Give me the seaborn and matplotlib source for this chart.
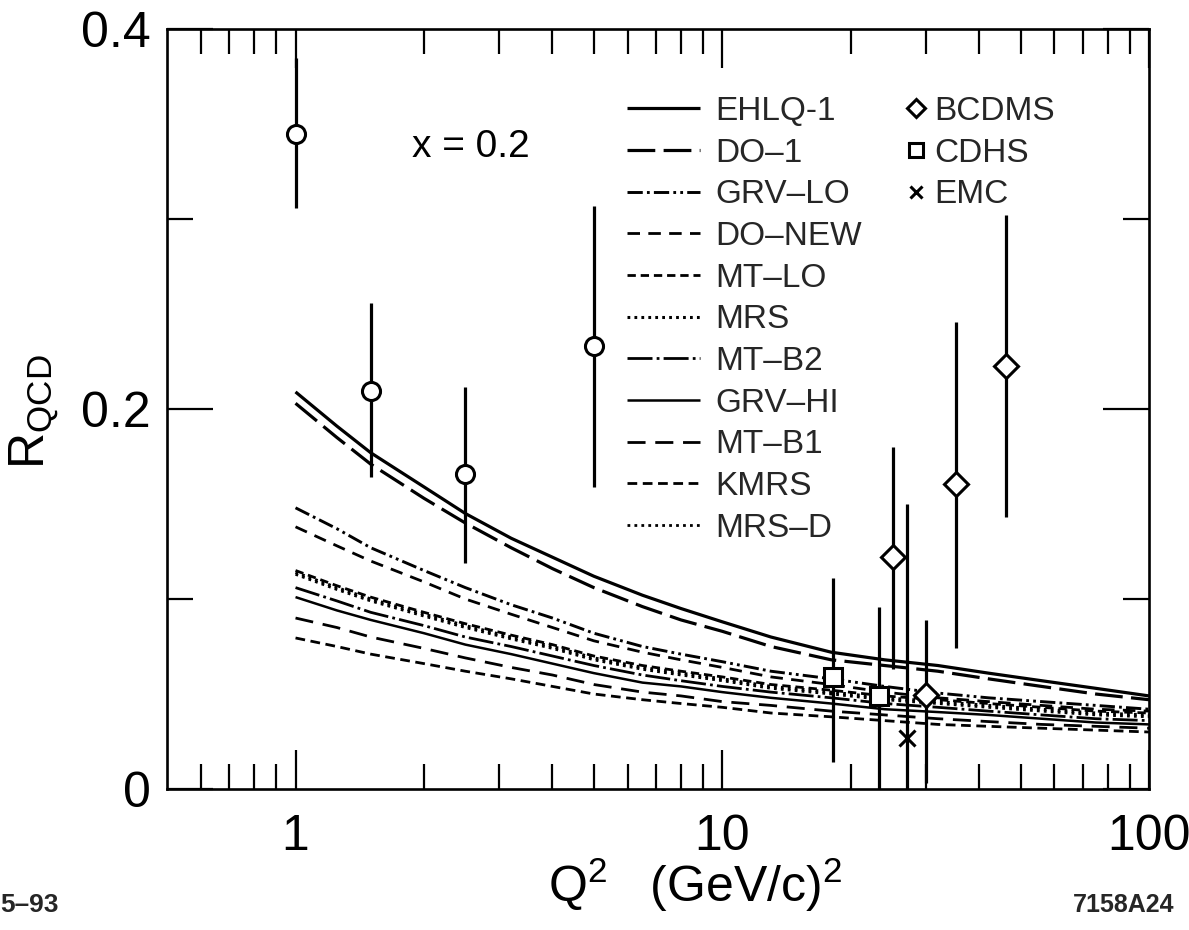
import numpy as np
import pandas as pd
import matplotlib
matplotlib.use("Agg")
import matplotlib.pyplot as plt
import seaborn as sns
from matplotlib.ticker import FixedLocator, NullFormatter

Q2_GRID = [1, 1.25, 1.5, 2, 2.5, 3.2, 4, 5, 6.5, 8, 10, 13, 18, 24, 32, 42, 56, 75, 100]

R_EHLQ1 = [0.209, 0.191, 0.177, 0.159, 0.145, 0.132, 0.122, 0.112, 0.102, 0.095,
           0.088, 0.080, 0.072, 0.068, 0.065, 0.061, 0.057, 0.053, 0.049]
R_DO1 = [0.203, 0.185, 0.171, 0.153, 0.140, 0.127, 0.116, 0.106, 0.096, 0.089,
         0.083, 0.075, 0.068, 0.065, 0.062, 0.058, 0.054, 0.050, 0.047]
R_GRVLO = [0.148, 0.137, 0.127, 0.115, 0.106, 0.097, 0.090, 0.082, 0.075, 0.071,
           0.067, 0.062, 0.058, 0.054, 0.0505, 0.048, 0.046, 0.044, 0.042]
R_DONEW = [0.138, 0.128, 0.120, 0.109, 0.100, 0.092, 0.085, 0.078, 0.072, 0.068,
           0.064, 0.059, 0.055, 0.051, 0.048, 0.046, 0.044, 0.042, 0.041]
R_MTLO = [0.115, 0.107, 0.101, 0.093, 0.087, 0.081, 0.076, 0.070, 0.065, 0.062,
          0.059, 0.055, 0.052, 0.049, 0.047, 0.045, 0.043, 0.041, 0.040]
R_MRS = [0.114, 0.106, 0.100, 0.092, 0.086, 0.080, 0.075, 0.069, 0.064, 0.061,
         0.058, 0.054, 0.051, 0.048, 0.046, 0.044, 0.042, 0.040, 0.039]
R_MTB2 = [0.106, 0.099, 0.093, 0.086, 0.080, 0.075, 0.070, 0.065, 0.060, 0.057,
          0.054, 0.051, 0.048, 0.045, 0.043, 0.041, 0.039, 0.037, 0.036]
R_GRVHI = [0.101, 0.094, 0.089, 0.082, 0.076, 0.071, 0.066, 0.061, 0.056, 0.054,
           0.051, 0.048, 0.045, 0.042, 0.0405, 0.039, 0.037, 0.035, 0.034]
R_MTB1 = [0.090, 0.085, 0.080, 0.074, 0.069, 0.064, 0.060, 0.055, 0.051, 0.049,
          0.046, 0.044, 0.041, 0.039, 0.037, 0.0355, 0.034, 0.033, 0.032]
R_KMRS = [0.0795, 0.075, 0.071, 0.066, 0.062, 0.058, 0.054, 0.050, 0.047, 0.045,
          0.043, 0.040, 0.038, 0.036, 0.034, 0.033, 0.032, 0.031, 0.030]
R_MRSD = [0.113, 0.105, 0.099, 0.091, 0.085, 0.079, 0.074, 0.068, 0.063, 0.060,
          0.057, 0.053, 0.050, 0.047, 0.045, 0.043, 0.041, 0.039, 0.038]

MODELS = ["EHLQ-1", "DO\u20131", "GRV\u2013LO", "DO\u2013NEW", "MT\u2013LO", "MRS",
          "MT\u2013B2", "GRV\u2013HI", "MT\u2013B1", "KMRS", "MRS\u2013D"]
MODEL_VALUES = [R_EHLQ1, R_DO1, R_GRVLO, R_DONEW, R_MTLO, R_MRS,
                R_MTB2, R_GRVHI, R_MTB1, R_KMRS, R_MRSD]

# (linestyle, linewidth) per curve
STYLES = {
    "EHLQ-1": ("-", 2.3),
    "DO\u20131": ((0, (20, 6)), 2.3),
    "GRV\u2013LO": ((0, (11, 3, 2, 3, 11, 3, 2, 3, 2, 3)), 2.1),
    "DO\u2013NEW": ((0, (9, 6)), 2.0),
    "MT\u2013LO": ((0, (6, 3.5)), 2.0),
    "MRS": ((0, (2, 3)), 2.2),
    "MT\u2013B2": ((0, (18, 3, 2, 3)), 2.0),
    "GRV\u2013HI": ("-", 1.8),
    "MT\u2013B1": ((0, (13, 7)), 2.0),
    "KMRS": ((0, (7, 4)), 2.0),
    "MRS\u2013D": ((0, (2, 3)), 2.0),
}

# data points (value, lower end, upper end of the error bar)
SLAC_Q2 = [1.0, 1.5, 2.5, 5.0]
SLAC_R = [0.345, 0.2095, 0.166, 0.233]
SLAC_LO = [0.306, 0.164, 0.119, 0.159]
SLAC_HI = [0.385, 0.256, 0.2115, 0.307]

BCDMS_Q2 = [25.1, 30.0, 35.3, 46.1]
BCDMS_R = [0.122, 0.0495, 0.1605, 0.2226]
BCDMS_LO = [0.063, 0.003, 0.074, 0.143]
BCDMS_HI = [0.180, 0.089, 0.246, 0.302]

CDHS_Q2 = [18.2, 23.3]
CDHS_R = [0.059, 0.049]
CDHS_LO = [0.014, 0.0]
CDHS_HI = [0.111, 0.096]

EMC_Q2 = [27.1]
EMC_R = [0.027]
EMC_LO = [0.0]
EMC_HI = [0.150]

X_MAJOR = [1, 10, 100]
X_MINOR = [0.6, 0.7, 0.8, 0.9, 2, 3, 4, 5, 6, 7, 8, 9, 20, 30, 40, 50, 60, 70, 80, 90]
Y_MAJOR = [0, 0.2, 0.4]
Y_MINOR = [0.1, 0.3]

sns.set_theme(style="ticks")
plt.rcParams["font.family"] = ["Liberation Sans", "DejaVu Sans"]
plt.rcParams["mathtext.fontset"] = "custom"
plt.rcParams["mathtext.rm"] = "Liberation Sans"
plt.rcParams["mathtext.it"] = "Liberation Sans"
plt.rcParams["lines.scale_dashes"] = False

fig, ax = plt.subplots(figsize=(11.89, 9.30), dpi=100)
fig.subplots_adjust(left=0.1405, right=0.9664, bottom=0.1516, top=0.9688)

curves = pd.DataFrame({
    "Q2": np.tile(Q2_GRID, len(MODELS)),
    "R": np.concatenate(MODEL_VALUES),
    "model": np.repeat(MODELS, len(Q2_GRID)),
})

line_handles = []
for name in MODELS:
    ls, lw = STYLES[name]
    sns.lineplot(data=curves[curves["model"] == name], x="Q2", y="R",
                 color="black", lw=lw, ax=ax, legend=False, label=name)
    line = ax.get_lines()[-1]
    line.set_linestyle(ls)
    line.set_solid_capstyle("butt")
    line_handles.append(line)


def draw_points(q2, r, lo, hi, marker, ms, label):
    r = np.asarray(r)
    yerr = [r - np.asarray(lo), np.asarray(hi) - r]
    cont = ax.errorbar(q2, r, yerr=yerr, fmt=marker, ms=ms, mfc="white",
                       mec="black", mew=2.2, ecolor="black", elinewidth=2.3,
                       capsize=0, zorder=5, label=label)
    return cont.lines[0]


draw_points(SLAC_Q2, SLAC_R, SLAC_LO, SLAC_HI, "o", 13, None)
h_bcdms = draw_points(BCDMS_Q2, BCDMS_R, BCDMS_LO, BCDMS_HI, "D", 12, "BCDMS")
h_cdhs = draw_points(CDHS_Q2, CDHS_R, CDHS_LO, CDHS_HI, "s", 13, "CDHS")
h_emc = draw_points(EMC_Q2, EMC_R, EMC_LO, EMC_HI, "x", 12, "EMC")

ax.set_xscale("log")
ax.set_xlim(0.5, 100)
ax.set_ylim(0, 0.4)

ax.xaxis.set_major_locator(FixedLocator(X_MAJOR))
ax.xaxis.set_minor_locator(FixedLocator(X_MINOR))
ax.xaxis.set_minor_formatter(NullFormatter())
ax.set_xticklabels(["1", "10", "100"])
ax.yaxis.set_major_locator(FixedLocator(Y_MAJOR))
ax.yaxis.set_minor_locator(FixedLocator(Y_MINOR))
ax.set_yticklabels(["0", "0.2", "0.4"])

ax.tick_params(axis="both", which="both", direction="in", top=True, right=True,
               width=1.6, color="black", labelsize=36, labelcolor="black")
ax.tick_params(axis="x", which="major", length=28, pad=18)
ax.tick_params(axis="x", which="minor", length=18)
ax.tick_params(axis="y", which="major", length=33, pad=12)
ax.tick_params(axis="y", which="minor", length=19)
for side in ax.spines.values():
    side.set_linewidth(1.9)
    side.set_color("black")

ax.set_xlabel(r"Q$^{2}$   (GeV/c)$^{2}$", fontsize=36, color="black")
ax.set_ylabel(r"R$_{\rm QCD}$", fontsize=36, color="black")
ax.xaxis.set_label_coords(0.538, -0.088)
ax.yaxis.set_label_coords(-0.108, 0.497)

ax.text(0.309, 0.845, "x = 0.2", transform=ax.transAxes, fontsize=28,
        ha="center", va="center", color="black")

leg1 = ax.legend(handles=line_handles, labels=MODELS, loc="upper left",
                 bbox_to_anchor=(0.468, 0.912), frameon=False, fontsize=24,
                 handlelength=2.2, handletextpad=0.45, labelspacing=0.32,
                 borderpad=0, borderaxespad=0)
ax.add_artist(leg1)
ax.legend(handles=[h_bcdms, h_cdhs, h_emc], labels=["BCDMS", "CDHS", "EMC"],
          loc="upper left", bbox_to_anchor=(0.752, 0.912), frameon=False,
          fontsize=24, handlelength=0.6, handletextpad=0.25, labelspacing=0.32,
          borderpad=0, borderaxespad=0, numpoints=1, markerscale=0.75)

fig.text(0.0, 0.027, "5\u201393", fontsize=19, fontweight="bold",
         ha="left", va="center")
fig.text(0.988, 0.027, "7158A24", fontsize=18, fontweight="bold",
         ha="right", va="center")

fig.savefig("out.png", dpi=100)
